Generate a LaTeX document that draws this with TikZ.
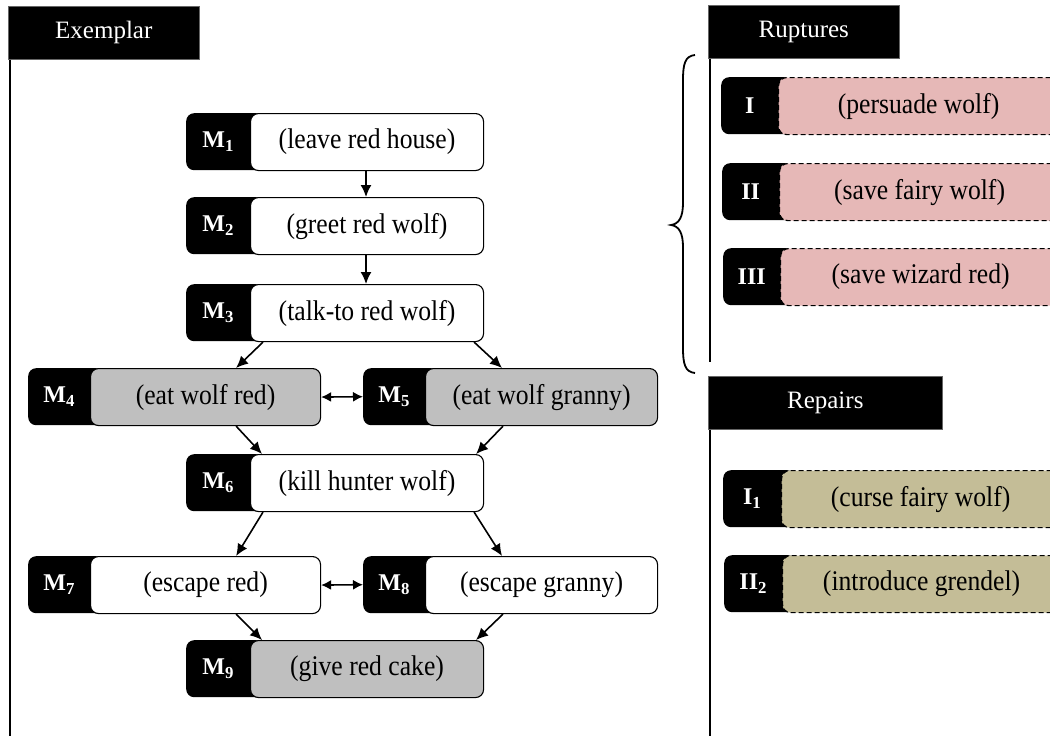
\documentclass[tikz,border=0pt]{standalone}
\usepackage{fontspec}
\setmainfont{Liberation Serif}
\newfontfamily\tallserif[FakeStretch=0.9]{Liberation Serif}
\usetikzlibrary{arrows.meta,calc}
\definecolor{boxgray}{HTML}{BFBFBF}
\definecolor{rupt}{HTML}{E6B8B7}
\definecolor{repr}{HTML}{C4BD97}
\begin{document}
\begin{tikzpicture}[x=1pt,y=-1pt,
  hdr/.style={fill=black, draw=black!60, line width=0.6pt, anchor=north west, minimum height=53pt, inner sep=0pt, text=white, font=\fontsize{25}{28}\selectfont},
  keybox/.style={fill=black, rounded corners=8pt, anchor=north west, minimum height=57pt, inner sep=0pt, text=white, font=\fontsize{24}{28}\selectfont\bfseries},
  bodybox/.style={draw=black, line width=1.1pt, rounded corners=8pt, anchor=north west, minimum height=57pt, inner sep=0pt, font=\tallserif\fontsize{28.5}{32}\selectfont},
  dashbody/.style={bodybox, line width=1.2pt, dash pattern=on 5pt off 3pt},
  rail/.style={line width=1.4pt},
  flow/.style={line width=1.6pt, -{Latex[length=12pt,width=11pt]}},
  both/.style={line width=1.6pt, {Latex[length=10pt,width=10pt]}-{Latex[length=10pt,width=10pt]}},
]
\clip (0,0) rectangle (1050,736);
\fill[white] (0,0) rectangle (1050,736);

% headers and rails
\node[hdr, minimum width=191pt] (hex) at (8,6) {Exemplar};
\node[hdr, minimum width=191pt] (hru) at (708,5) {Ruptures};
\node[hdr, minimum width=234pt] (hre) at (708,376) {Repairs};
\coordinate (exend) at (10,736);
\coordinate (ruend) at (710,362);
\coordinate (reend) at (710,736);
\draw[rail] (hex.south west -| exend) -- (exend);
\draw[rail] (hru.south west -| ruend) -- (ruend);
\draw[rail] (hre.south west -| reend) -- (reend);

% brace
\draw[line width=1.8pt] (695,55) .. controls (685,56) and (683,64) .. (683,80) -- (683,203)
  .. controls (683,217) and (679,224) .. (671,225)
  .. controls (679,226) and (683,233) .. (683,247) -- (683,348)
  .. controls (683,364) and (685,372) .. (695,373);

% exemplar items
\node[keybox, minimum width=78pt] (k1) at (186,113) {M\textsubscript{1}\hspace*{14pt}};
\node[bodybox, fill=white, minimum width=233pt] (m1) at (250,113) {(leave red house)};
\node[keybox, minimum width=78pt] (k2) at (186,197) {M\textsubscript{2}\hspace*{14pt}};
\node[bodybox, fill=white, minimum width=233pt] (m2) at (250,197) {(greet red wolf)};
\node[keybox, minimum width=78pt] (k3) at (186,284) {M\textsubscript{3}\hspace*{14pt}};
\node[bodybox, fill=white, minimum width=233pt] (m3) at (250,284) {(talk-to red wolf)};
\node[keybox, minimum width=76pt] (k4) at (28,368) {M\textsubscript{4}\hspace*{14pt}};
\node[bodybox, fill=boxgray, minimum width=230pt] (m4) at (90,368) {(eat wolf red)};
\node[keybox, minimum width=76pt] (k5) at (363,368) {M\textsubscript{5}\hspace*{14pt}};
\node[bodybox, fill=boxgray, minimum width=232pt] (m5) at (425,368) {(eat wolf granny)};
\node[keybox, minimum width=78pt] (k6) at (186,454) {M\textsubscript{6}\hspace*{14pt}};
\node[bodybox, fill=white, minimum width=233pt] (m6) at (250,454) {(kill hunter wolf)};
\node[keybox, minimum width=76pt] (k7) at (28,556) {M\textsubscript{7}\hspace*{14pt}};
\node[bodybox, fill=white, minimum width=230pt] (m7) at (90,556) {(escape red)};
\node[keybox, minimum width=76pt] (k8) at (363,556) {M\textsubscript{8}\hspace*{14pt}};
\node[bodybox, fill=white, minimum width=232pt] (m8) at (425,556) {(escape granny)};
\node[keybox, minimum width=78pt] (k9) at (186,640) {M\textsubscript{9}\hspace*{14pt}};
\node[bodybox, fill=boxgray, minimum width=233pt] (m9) at (250,640) {(give red cake)};

% ruptures
\node[keybox, minimum width=71pt] (kr1) at (721,77) {I\hspace*{14pt}};
\node[dashbody, fill=rupt, minimum width=280pt] (r1) at (778,77) {(persuade wolf)};
\node[keybox, minimum width=71pt] (kr2) at (722,163) {II\hspace*{14pt}};
\node[dashbody, fill=rupt, minimum width=280pt] (r2) at (779,163) {(save fairy wolf)};
\node[keybox, minimum width=71pt] (kr3) at (723,248) {III\hspace*{14pt}};
\node[dashbody, fill=rupt, minimum width=280pt] (r3) at (780,248) {(save wizard red)};

% repairs
\node[keybox, minimum width=72pt] (kp1) at (723,470) {I\textsubscript{1}\hspace*{14pt}};
\node[dashbody, fill=repr, minimum width=278pt] (p1) at (781,470) {(curse fairy wolf)};
\node[keybox, minimum width=72pt] (kp2) at (724,555) {II\textsubscript{2}\hspace*{14pt}};
\node[dashbody, fill=repr, minimum width=278pt] (p2) at (782,555) {(introduce grendel)};

% connectors
\draw[flow] ($(m1.south west)+(116,0)$) -- ($(m2.north west)+(116,0)$);
\draw[flow] ($(m2.south west)+(116,0)$) -- ($(m3.north west)+(116,0)$);
\draw[flow] ($(m3.south west)+(13,0)$) -- ($(m4.north east)+(-85,0)$);
\draw[flow] ($(m3.south east)+(-10,0)$) -- ($(m5.north west)+(77,0)$);
\draw[flow] ($(m4.south east)+(-85,0)$) -- ($(m6.north west)+(12,0)$);
\draw[flow] ($(m5.south west)+(78,0)$) -- ($(m6.north east)+(-8,0)$);
\draw[both] (m4.east) -- (k5.west);
\draw[flow] ($(m6.south west)+(13,0)$) -- ($(m7.north east)+(-85,0)$);
\draw[flow] ($(m6.south east)+(-10,0)$) -- ($(m8.north west)+(77,0)$);
\draw[flow] ($(m7.south east)+(-85,0)$) -- ($(m9.north west)+(12,0)$);
\draw[flow] ($(m8.south west)+(78,0)$) -- ($(m9.north east)+(-8,0)$);
\draw[both] (m7.east) -- (k8.west);
\end{tikzpicture}
\end{document}
